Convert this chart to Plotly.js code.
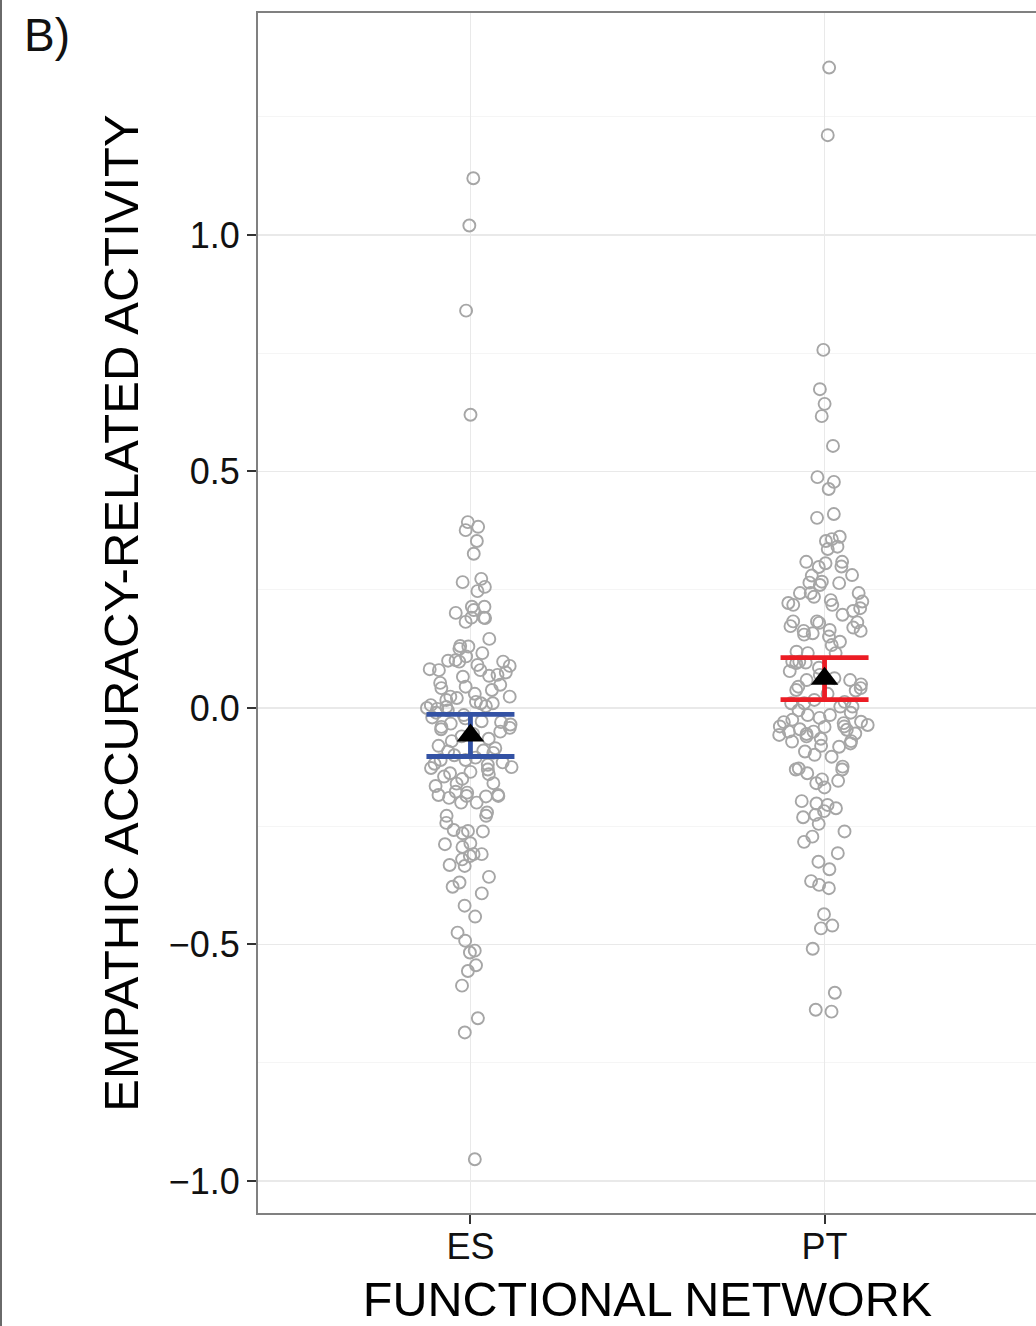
<!DOCTYPE html>
<html>
<head>
<meta charset="utf-8">
<script src="https://cdn.plot.ly/plotly-3.0.1.min.js"></script>
<style>
html,body{margin:0;padding:0;overflow:hidden;background:#fff;width:1036px;height:1326px}
#chart{position:absolute;left:0;top:0}
#frame{position:absolute;left:0;top:0;width:2px;height:1326px;background:#6a6a6a}
</style>
</head>
<body>
<div id="chart"></div>
<div id="frame"></div>
<script>
// ---- data ----
const categories = ['ES', 'PT'];

const esValues = [
  1.12, 1.02, 0.84, 0.62,
  0.393, 0.383, 0.376, 0.353, 0.326,
  0.273, 0.266, 0.256, 0.247,
  0.214, 0.214, 0.207, 0.201, 0.191, 0.191, 0.190, 0.182,
  0.146,
  0.131, 0.130, 0.125, 0.116, 0.109, 0.101, 0.100, 0.098, 0.098, 0.091,
  0.089, 0.082, 0.080, 0.080, 0.075, 0.070, 0.068, 0.066, 0.053, 0.049,
  0.045, 0.042, 0.038, 0.030, 0.024, 0.024, 0.021, 0.017, 0.013, 0.010,
  0.010, 0.006, 0.004, 0.002, 0.000, -0.002,
  -0.005, -0.010, -0.015, -0.020, -0.022, -0.028, -0.030, -0.033, -0.035,
  -0.040, -0.042, -0.045, -0.050, -0.055, -0.060,
  -0.065, -0.070, -0.080, -0.085, -0.090, -0.092, -0.095, -0.100,
  -0.105, -0.110, -0.110, -0.115, -0.118, -0.120, -0.125, -0.127, -0.130,
  -0.135, -0.138, -0.140, -0.145, -0.150,
  -0.159, -0.160, -0.165, -0.177, -0.179, -0.184, -0.184, -0.186, -0.186,
  -0.187, -0.190, -0.200, -0.200,
  -0.221, -0.228, -0.228, -0.243, -0.258, -0.260, -0.261, -0.265, -0.286,
  -0.288, -0.294, -0.309, -0.309, -0.313, -0.320, -0.332, -0.334, -0.357,
  -0.369, -0.378, -0.392, -0.418, -0.441, -0.475, -0.492, -0.513, -0.517,
  -0.544, -0.556, -0.587, -0.656, -0.686, -0.954
];

const ptValues = [
  1.354, 1.211, 0.757, 0.674, 0.643, 0.617, 0.554, 0.488, 0.478, 0.463,
  0.410, 0.402, 0.362, 0.357, 0.353, 0.341, 0.336,
  0.309, 0.309, 0.306, 0.299, 0.298, 0.281, 0.280, 0.267, 0.265, 0.264,
  0.260, 0.243, 0.243, 0.243, 0.235, 0.228, 0.225, 0.222, 0.218, 0.218,
  0.211, 0.205, 0.197, 0.183, 0.183, 0.181, 0.180, 0.173, 0.170, 0.165,
  0.163, 0.163, 0.158, 0.155, 0.151, 0.140, 0.133, 0.119, 0.116, 0.116,
  0.098, 0.098, 0.096, 0.095, 0.085, 0.078, 0.070, 0.063, 0.059, 0.059,
  0.050, 0.045, 0.042, 0.038, 0.037, 0.030, 0.017, 0.013, 0.010, 0.010,
  0.003, 0.003,
  -0.005, -0.010, -0.015, -0.015, -0.021, -0.025, -0.029, -0.030, -0.032,
  -0.036, -0.039, -0.039, -0.040, -0.045, -0.046, -0.050, -0.050, -0.054,
  -0.055, -0.057, -0.060, -0.065, -0.070, -0.071, -0.075, -0.080, -0.082,
  -0.092, -0.099, -0.103,
  -0.124, -0.128, -0.130, -0.130, -0.138, -0.151, -0.154, -0.159, -0.168,
  -0.197, -0.202, -0.205, -0.212, -0.218, -0.226, -0.231, -0.245, -0.261,
  -0.272, -0.283, -0.307, -0.325, -0.341, -0.366, -0.374, -0.381, -0.436,
  -0.460, -0.466, -0.509, -0.602, -0.638, -0.642
];

const meanValues = [-0.058, 0.062];
const errorValues = [0.0446, 0.0445];
const yTickValues = [-1.0, -0.5, 0.0, 0.5, 1.0];
const yMinorValues = [-0.75, -0.25, 0.25, 0.75, 1.25];
const panelLabel = 'B)';
const xTitle = 'FUNCTIONAL NETWORK';
const yTitle = 'EMPATHIC ACCURACY-RELATED ACTIVITY';

// ---- styles ----
const FONT = '"Liberation Sans", Arial, Helvetica, sans-serif';
const pointColor = '#a6a6a6';
const barColors = ['#3352a4', '#ec1c24'];

function pointsTrace(cat, vals) {
  return {
    type: 'box',
    x: vals.map(() => cat),
    y: vals,
    boxpoints: 'all',
    jitter: 1,
    pointpos: 0,
    width: 0.26,
    fillcolor: 'rgba(0,0,0,0)',
    line: {color: 'rgba(0,0,0,0)', width: 0},
    whiskerwidth: 0,
    marker: {symbol: 'circle-open', size: 12, color: pointColor,
             line: {width: 1.9, color: pointColor}},
    hoveron: 'points',
    showlegend: false
  };
}

function meanTrace(i) {
  return {
    type: 'scatter',
    mode: 'markers',
    x: [categories[i]],
    y: [meanValues[i]],
    error_y: {type: 'data', array: [errorValues[i]], visible: true,
              color: barColors[i], thickness: 4.8, width: 44},
    marker: {symbol: 'triangle-up', size: 24, color: '#000'},
    showlegend: false
  };
}

const data = [
  pointsTrace(categories[0], esValues),
  pointsTrace(categories[1], ptValues),
  meanTrace(0),
  meanTrace(1)
];

const W = 1040, H = 1326;
const m = {l: 258, r: 3, t: 13, b: 113};
const plotW = W - m.l - m.r, plotH = H - m.t - m.b;

const layout = {
  width: W, height: H,
  margin: m,
  paper_bgcolor: '#fff',
  plot_bgcolor: '#fff',
  showlegend: false,
  boxmode: 'overlay',
  font: {family: FONT, color: '#111'},
  xaxis: {
    type: 'category',
    categoryorder: 'array',
    categoryarray: categories,
    range: [-0.6, 1.6],
    showgrid: true, gridcolor: '#e9e9e9', gridwidth: 1.4,
    zeroline: false,
    showline: true, mirror: true, linecolor: '#808080', linewidth: 2,
    ticks: 'outside', ticklen: 9, tickwidth: 2, tickcolor: '#333',
    ticklabelstandoff: -8,
    tickfont: {size: 36, family: FONT, color: '#111'},
    title: {text: xTitle, font: {size: 48.5, family: FONT, color: '#000'}, standoff: 18},
    automargin: false,
    fixedrange: true
  },
  yaxis: {
    range: [-1.0677, 1.4693],
    tickvals: yTickValues,
    tickformat: '.1f',
    showgrid: true, gridcolor: '#e9e9e9', gridwidth: 1.4,
    minor: {tickvals: yMinorValues, showgrid: true, gridcolor: '#f5f5f5', gridwidth: 1, ticks: ''},
    zeroline: false,
    showline: true, mirror: true, linecolor: '#808080', linewidth: 2,
    ticks: 'outside', ticklen: 9, tickwidth: 2, tickcolor: '#333',
    tickfont: {size: 36, family: FONT, color: '#111'},
    title: {text: yTitle, font: {size: 49, family: FONT, color: '#000'}, standoff: 15},
    automargin: false,
    fixedrange: true
  },
  annotations: [{
    text: panelLabel,
    xref: 'paper', yref: 'paper',
    x: (22 - m.l) / plotW, y: 1 - (35 - m.t) / plotH,
    xanchor: 'left', yanchor: 'middle',
    showarrow: false,
    font: {size: 46, family: FONT, color: '#111'}
  }]
};

Plotly.newPlot('chart', data, layout, {staticPlot: true, displayModeBar: false});
</script>
</body>
</html>
